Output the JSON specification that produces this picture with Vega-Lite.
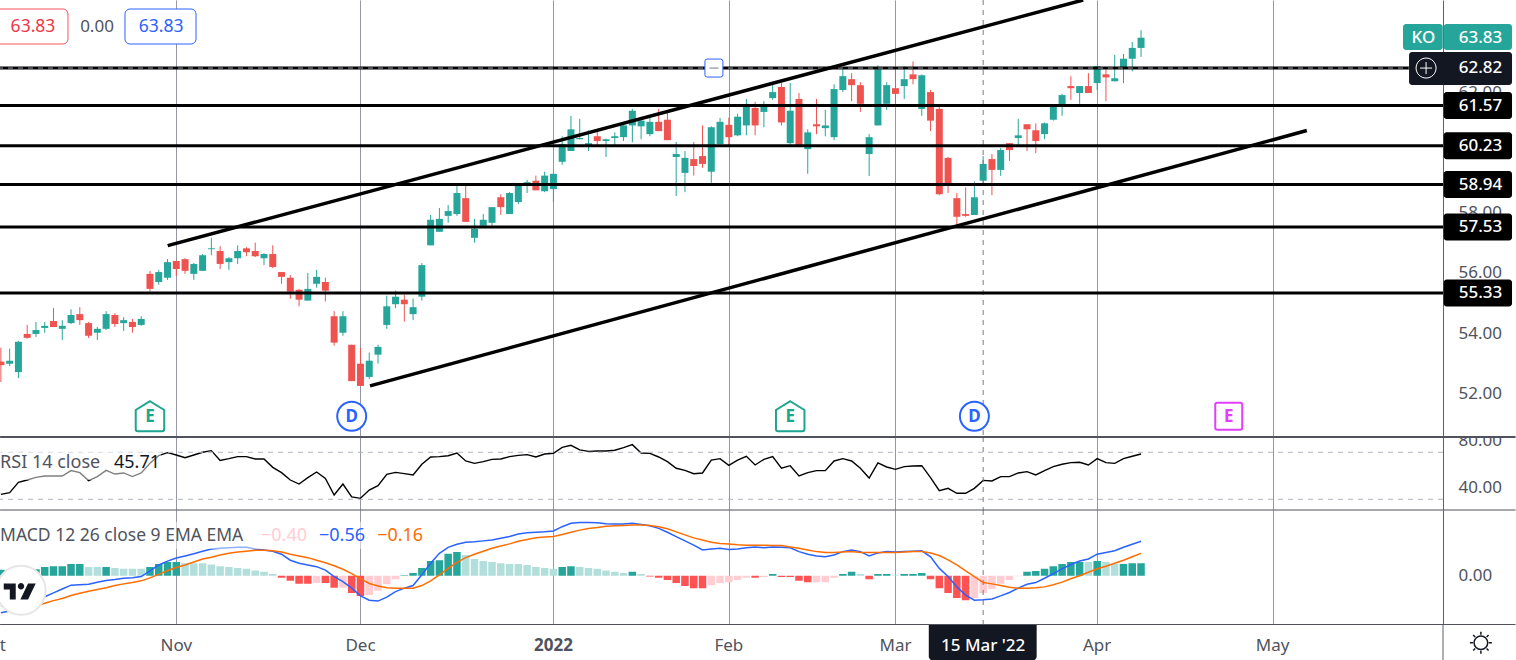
{"$schema":"https://vega.github.io/schema/vega-lite/v6.json","padding":0,"background":"#ffffff","spacing":0,"bounds":"flush","config":{"font":"Noto Sans","view":{"stroke":null},"axis":{"labelFont":"Noto Sans"}},
"datasets":{
"bars":[
{"bar":-20,"open":53.05,"high":53.51,"low":52.37,"close":52.93,"rsi":34.2,"hist":0.14,"tone":"up","macd":-0.86,"signal":-0.70},
{"bar":-19,"open":52.98,"high":53.48,"low":52.90,"close":53.08,"rsi":35.6,"hist":0.14,"tone":"up","macd":-0.82,"signal":-0.71},
{"bar":-18,"open":52.70,"high":53.74,"low":52.50,"close":53.71,"rsi":44.4,"hist":0.14,"tone":"up","macd":-0.75,"signal":-0.71},
{"bar":-17,"open":53.97,"high":54.27,"low":53.81,"close":53.84,"rsi":46.4,"hist":0.14,"tone":"up","macd":-0.68,"signal":-0.71},
{"bar":-16,"open":53.97,"high":54.37,"low":53.87,"close":54.10,"rsi":48.7,"hist":0.15,"tone":"up","macd":-0.59,"signal":-0.71},
{"bar":-15,"open":54.17,"high":54.37,"low":54.01,"close":54.24,"rsi":49.8,"hist":0.20,"tone":"up","macd":-0.49,"signal":-0.64},
{"bar":-14,"open":54.40,"high":54.83,"low":54.20,"close":54.20,"rsi":49.8,"hist":0.22,"tone":"up","macd":-0.40,"signal":-0.58},
{"bar":-13,"open":54.14,"high":54.43,"low":53.77,"close":54.24,"rsi":49.8,"hist":0.22,"tone":"up","macd":-0.31,"signal":-0.53},
{"bar":-12,"open":54.33,"high":54.79,"low":54.30,"close":54.60,"rsi":54.4,"hist":0.27,"tone":"up","macd":-0.22,"signal":-0.46},
{"bar":-11,"open":54.63,"high":54.86,"low":54.27,"close":54.43,"rsi":52.7,"hist":0.27,"tone":"up","macd":-0.21,"signal":-0.41},
{"bar":-10,"open":54.33,"high":54.37,"low":53.84,"close":53.91,"rsi":45.9,"hist":0.20,"tone":"upfade","macd":-0.20,"signal":-0.36},
{"bar":-9,"open":54.01,"high":54.20,"low":53.77,"close":54.14,"rsi":49.3,"hist":0.20,"tone":"upfade","macd":-0.15,"signal":-0.32},
{"bar":-8,"open":54.14,"high":54.73,"low":54.10,"close":54.63,"rsi":54.6,"hist":0.20,"tone":"up","macd":-0.11,"signal":-0.28},
{"bar":-7,"open":54.60,"high":54.66,"low":54.20,"close":54.30,"rsi":51.5,"hist":0.18,"tone":"upfade","macd":-0.09,"signal":-0.23},
{"bar":-6,"open":54.33,"high":54.53,"low":54.07,"close":54.43,"rsi":52.4,"hist":0.16,"tone":"upfade","macd":-0.06,"signal":-0.19},
{"bar":-5,"open":54.37,"high":54.47,"low":54.01,"close":54.20,"rsi":49.3,"hist":0.16,"tone":"upfade","macd":-0.05,"signal":-0.16},
{"bar":-4,"open":54.27,"high":54.56,"low":54.24,"close":54.47,"rsi":52.4,"hist":0.16,"tone":"upfade","macd":-0.02,"signal":-0.12},
{"bar":-3,"open":55.97,"high":56.07,"low":55.38,"close":55.47,"rsi":60.6,"hist":0.20,"tone":"up","macd":0.11,"signal":-0.05},
{"bar":-2,"open":55.70,"high":56.10,"low":55.61,"close":56.03,"rsi":67.1,"hist":0.27,"tone":"up","macd":0.25,"signal":0.03},
{"bar":-1,"open":55.84,"high":56.46,"low":55.77,"close":56.36,"rsi":69.7,"hist":0.32,"tone":"up","macd":0.34,"signal":0.12},
{"bar":0,"open":56.40,"high":56.40,"low":55.90,"close":56.13,"rsi":67.7,"hist":0.32,"tone":"up","macd":0.41,"signal":0.19},
{"bar":1,"open":56.46,"high":56.49,"low":55.97,"close":56.07,"rsi":65.4,"hist":0.29,"tone":"upfade","macd":0.46,"signal":0.25},
{"bar":2,"open":55.97,"high":56.33,"low":55.77,"close":56.30,"rsi":67.7,"hist":0.29,"tone":"upfade","macd":0.51,"signal":0.32},
{"bar":3,"open":56.07,"high":56.63,"low":56.07,"close":56.59,"rsi":70.0,"hist":0.29,"tone":"upfade","macd":0.57,"signal":0.39},
{"bar":4,"open":56.79,"high":57.17,"low":56.59,"close":56.82,"rsi":71.4,"hist":0.26,"tone":"upfade","macd":0.62,"signal":0.43},
{"bar":5,"open":56.73,"high":56.89,"low":56.13,"close":56.30,"rsi":63.1,"hist":0.22,"tone":"upfade","macd":0.64,"signal":0.48},
{"bar":6,"open":56.36,"high":56.53,"low":56.10,"close":56.49,"rsi":64.6,"hist":0.20,"tone":"upfade","macd":0.65,"signal":0.52},
{"bar":7,"open":56.49,"high":56.92,"low":56.30,"close":56.73,"rsi":66.3,"hist":0.18,"tone":"upfade","macd":0.66,"signal":0.55},
{"bar":8,"open":56.82,"high":56.86,"low":56.56,"close":56.69,"rsi":66.3,"hist":0.16,"tone":"upfade","macd":0.66,"signal":0.57},
{"bar":9,"open":56.73,"high":57.01,"low":56.53,"close":56.56,"rsi":64.3,"hist":0.12,"tone":"upfade","macd":0.62,"signal":0.59},
{"bar":10,"open":56.49,"high":56.66,"low":56.26,"close":56.63,"rsi":64.3,"hist":0.09,"tone":"upfade","macd":0.60,"signal":0.59},
{"bar":11,"open":56.63,"high":56.92,"low":56.16,"close":56.20,"rsi":57.2,"hist":0.04,"tone":"upfade","macd":0.57,"signal":0.58},
{"bar":12,"open":56.03,"high":56.03,"low":55.64,"close":55.87,"rsi":52.7,"hist":-0.05,"tone":"down","macd":0.50,"signal":0.55},
{"bar":13,"open":55.84,"high":55.93,"low":55.14,"close":55.38,"rsi":46.4,"hist":-0.12,"tone":"down","macd":0.36,"signal":0.50},
{"bar":14,"open":55.44,"high":55.47,"low":54.89,"close":55.11,"rsi":43.0,"hist":-0.19,"tone":"down","macd":0.29,"signal":0.46},
{"bar":15,"open":55.08,"high":56.00,"low":55.08,"close":55.47,"rsi":48.4,"hist":-0.19,"tone":"down","macd":0.25,"signal":0.42},
{"bar":16,"open":55.64,"high":56.10,"low":55.51,"close":55.87,"rsi":53.2,"hist":-0.17,"tone":"downfade","macd":0.21,"signal":0.36},
{"bar":17,"open":55.70,"high":55.84,"low":55.05,"close":55.41,"rsi":47.8,"hist":-0.17,"tone":"down","macd":0.13,"signal":0.30},
{"bar":18,"open":54.56,"high":54.73,"low":53.58,"close":53.68,"rsi":33.7,"hist":-0.28,"tone":"down","macd":-0.02,"signal":0.23},
{"bar":19,"open":54.01,"high":54.73,"low":53.91,"close":54.56,"rsi":43.0,"hist":-0.28,"tone":"downfade","macd":-0.14,"signal":0.15},
{"bar":20,"open":53.61,"high":53.61,"low":52.40,"close":52.40,"rsi":32.0,"hist":-0.40,"tone":"down","macd":-0.29,"signal":0.05},
{"bar":21,"open":52.98,"high":53.51,"low":52.24,"close":52.24,"rsi":30.8,"hist":-0.47,"tone":"down","macd":-0.47,"signal":-0.07},
{"bar":22,"open":52.54,"high":53.35,"low":52.47,"close":53.08,"rsi":37.9,"hist":-0.45,"tone":"downfade","macd":-0.57,"signal":-0.18},
{"bar":23,"open":53.28,"high":53.61,"low":52.98,"close":53.54,"rsi":41.6,"hist":-0.35,"tone":"downfade","macd":-0.59,"signal":-0.24},
{"bar":24,"open":54.27,"high":55.24,"low":54.14,"close":54.89,"rsi":51.2,"hist":-0.20,"tone":"downfade","macd":-0.50,"signal":-0.28},
{"bar":25,"open":54.96,"high":55.41,"low":54.83,"close":55.21,"rsi":52.9,"hist":-0.08,"tone":"downfade","macd":-0.37,"signal":-0.29},
{"bar":26,"open":55.11,"high":55.28,"low":54.38,"close":54.96,"rsi":51.8,"hist":0.01,"tone":"up","macd":-0.29,"signal":-0.29},
{"bar":27,"open":54.63,"high":55.15,"low":54.43,"close":54.86,"rsi":50.7,"hist":0.06,"tone":"up","macd":-0.23,"signal":-0.29},
{"bar":28,"open":55.21,"high":56.33,"low":55.08,"close":56.26,"rsi":59.8,"hist":0.18,"tone":"up","macd":0.02,"signal":-0.23},
{"bar":29,"open":56.92,"high":57.93,"low":56.92,"close":57.77,"rsi":66.0,"hist":0.34,"tone":"up","macd":0.29,"signal":-0.12},
{"bar":30,"open":57.37,"high":58.16,"low":57.37,"close":57.80,"rsi":66.3,"hist":0.36,"tone":"up","macd":0.52,"signal":0.02},
{"bar":31,"open":57.90,"high":58.26,"low":57.67,"close":58.06,"rsi":67.1,"hist":0.51,"tone":"up","macd":0.66,"signal":0.17},
{"bar":32,"open":57.96,"high":58.89,"low":57.90,"close":58.66,"rsi":69.4,"hist":0.55,"tone":"up","macd":0.73,"signal":0.31},
{"bar":33,"open":58.49,"high":58.89,"low":57.70,"close":57.70,"rsi":62.6,"hist":0.48,"tone":"upfade","macd":0.78,"signal":0.42},
{"bar":34,"open":57.17,"high":57.80,"low":57.01,"close":57.47,"rsi":60.6,"hist":0.39,"tone":"upfade","macd":0.79,"signal":0.50},
{"bar":35,"open":57.57,"high":57.96,"low":57.57,"close":57.77,"rsi":62.0,"hist":0.34,"tone":"upfade","macd":0.81,"signal":0.57},
{"bar":36,"open":57.67,"high":58.19,"low":57.57,"close":58.19,"rsi":64.0,"hist":0.32,"tone":"upfade","macd":0.83,"signal":0.64},
{"bar":37,"open":58.52,"high":58.62,"low":57.93,"close":58.19,"rsi":64.3,"hist":0.29,"tone":"upfade","macd":0.87,"signal":0.69},
{"bar":38,"open":57.96,"high":58.69,"low":57.96,"close":58.66,"rsi":66.3,"hist":0.27,"tone":"upfade","macd":0.91,"signal":0.74},
{"bar":39,"open":58.36,"high":58.95,"low":58.29,"close":58.92,"rsi":67.4,"hist":0.27,"tone":"upfade","macd":0.97,"signal":0.80},
{"bar":40,"open":58.91,"high":59.10,"low":58.66,"close":59.02,"rsi":68.0,"hist":0.25,"tone":"upfade","macd":1.00,"signal":0.84},
{"bar":41,"open":59.07,"high":59.24,"low":58.75,"close":58.75,"rsi":66.0,"hist":0.20,"tone":"upfade","macd":1.01,"signal":0.88},
{"bar":42,"open":58.72,"high":59.37,"low":58.69,"close":59.24,"rsi":68.5,"hist":0.18,"tone":"upfade","macd":1.02,"signal":0.90},
{"bar":43,"open":58.79,"high":59.30,"low":58.36,"close":59.30,"rsi":69.1,"hist":0.16,"tone":"upfade","macd":1.04,"signal":0.91},
{"bar":44,"open":59.70,"high":60.55,"low":59.60,"close":60.29,"rsi":74.2,"hist":0.20,"tone":"up","macd":1.14,"signal":0.96},
{"bar":45,"open":60.06,"high":61.23,"low":60.06,"close":60.78,"rsi":75.9,"hist":0.22,"tone":"up","macd":1.22,"signal":1.01},
{"bar":46,"open":60.45,"high":61.13,"low":60.45,"close":60.49,"rsi":72.0,"hist":0.20,"tone":"upfade","macd":1.24,"signal":1.06},
{"bar":47,"open":60.22,"high":60.75,"low":60.06,"close":60.32,"rsi":70.8,"hist":0.18,"tone":"upfade","macd":1.24,"signal":1.10},
{"bar":48,"open":60.55,"high":60.75,"low":60.26,"close":60.39,"rsi":71.1,"hist":0.16,"tone":"upfade","macd":1.23,"signal":1.12},
{"bar":49,"open":60.39,"high":60.47,"low":59.86,"close":60.45,"rsi":71.1,"hist":0.12,"tone":"upfade","macd":1.21,"signal":1.15},
{"bar":50,"open":60.49,"high":60.68,"low":60.26,"close":60.55,"rsi":71.7,"hist":0.09,"tone":"upfade","macd":1.20,"signal":1.16},
{"bar":51,"open":60.52,"high":60.97,"low":60.39,"close":60.91,"rsi":73.9,"hist":0.06,"tone":"upfade","macd":1.20,"signal":1.17},
{"bar":52,"open":60.91,"high":61.46,"low":60.35,"close":61.40,"rsi":76.5,"hist":0.09,"tone":"up","macd":1.22,"signal":1.18},
{"bar":53,"open":60.88,"high":61.20,"low":60.45,"close":61.07,"rsi":69.4,"hist":0.04,"tone":"upfade","macd":1.19,"signal":1.18},
{"bar":54,"open":60.62,"high":61.23,"low":60.55,"close":61.03,"rsi":69.1,"hist":-0.02,"tone":"down","macd":1.16,"signal":1.17},
{"bar":55,"open":61.03,"high":61.46,"low":60.72,"close":60.72,"rsi":66.0,"hist":-0.05,"tone":"down","macd":1.10,"signal":1.14},
{"bar":56,"open":61.10,"high":61.33,"low":60.42,"close":60.42,"rsi":62.0,"hist":-0.10,"tone":"down","macd":1.01,"signal":1.09},
{"bar":57,"open":59.86,"high":60.36,"low":58.56,"close":59.96,"rsi":56.4,"hist":-0.17,"tone":"down","macd":0.91,"signal":1.02},
{"bar":58,"open":59.33,"high":60.06,"low":58.69,"close":59.83,"rsi":54.6,"hist":-0.24,"tone":"down","macd":0.81,"signal":0.95},
{"bar":59,"open":59.79,"high":60.36,"low":59.24,"close":59.56,"rsi":51.8,"hist":-0.29,"tone":"down","macd":0.71,"signal":0.88},
{"bar":60,"open":59.89,"high":60.91,"low":59.50,"close":59.63,"rsi":52.4,"hist":-0.29,"tone":"down","macd":0.60,"signal":0.83},
{"bar":61,"open":59.37,"high":60.88,"low":59.00,"close":60.85,"rsi":63.4,"hist":-0.22,"tone":"downfade","macd":0.62,"signal":0.78},
{"bar":62,"open":60.29,"high":61.16,"low":60.26,"close":61.03,"rsi":64.6,"hist":-0.17,"tone":"downfade","macd":0.64,"signal":0.75},
{"bar":63,"open":60.93,"high":61.17,"low":60.26,"close":60.52,"rsi":58.9,"hist":-0.15,"tone":"downfade","macd":0.61,"signal":0.74},
{"bar":64,"open":60.58,"high":61.30,"low":60.55,"close":61.20,"rsi":63.4,"hist":-0.10,"tone":"downfade","macd":0.62,"signal":0.72},
{"bar":65,"open":60.91,"high":61.79,"low":60.58,"close":61.53,"rsi":66.6,"hist":-0.05,"tone":"downfade","macd":0.65,"signal":0.71},
{"bar":66,"open":61.49,"high":61.69,"low":60.58,"close":60.91,"rsi":59.2,"hist":-0.05,"tone":"down","macd":0.67,"signal":0.71},
{"bar":67,"open":61.36,"high":61.72,"low":60.85,"close":61.53,"rsi":64.0,"hist":-0.03,"tone":"downfade","macd":0.65,"signal":0.71},
{"bar":68,"open":61.82,"high":62.32,"low":61.76,"close":62.02,"rsi":66.3,"hist":0.04,"tone":"up","macd":0.67,"signal":0.70},
{"bar":69,"open":62.19,"high":62.32,"low":60.91,"close":61.01,"rsi":56.4,"hist":-0.03,"tone":"down","macd":0.66,"signal":0.70},
{"bar":70,"open":60.32,"high":62.32,"low":60.26,"close":61.40,"rsi":58.6,"hist":-0.03,"tone":"down","macd":0.65,"signal":0.67},
{"bar":71,"open":61.79,"high":61.99,"low":60.19,"close":60.26,"rsi":49.8,"hist":-0.12,"tone":"down","macd":0.56,"signal":0.64},
{"bar":72,"open":60.12,"high":60.78,"low":59.30,"close":60.68,"rsi":52.7,"hist":-0.15,"tone":"down","macd":0.50,"signal":0.60},
{"bar":73,"open":60.95,"high":61.79,"low":60.62,"close":60.88,"rsi":54.4,"hist":-0.15,"tone":"downfade","macd":0.46,"signal":0.56},
{"bar":74,"open":60.82,"high":61.43,"low":60.55,"close":60.91,"rsi":54.4,"hist":-0.15,"tone":"downfade","macd":0.44,"signal":0.54},
{"bar":75,"open":60.52,"high":62.28,"low":60.42,"close":62.12,"rsi":62.6,"hist":-0.05,"tone":"downfade","macd":0.48,"signal":0.54},
{"bar":76,"open":62.09,"high":62.78,"low":62.02,"close":62.55,"rsi":64.6,"hist":0.04,"tone":"up","macd":0.56,"signal":0.55},
{"bar":77,"open":62.45,"high":62.65,"low":61.72,"close":62.25,"rsi":62.6,"hist":0.09,"tone":"up","macd":0.60,"signal":0.56},
{"bar":78,"open":62.25,"high":62.35,"low":61.36,"close":61.63,"rsi":56.4,"hist":0.04,"tone":"upfade","macd":0.56,"signal":0.54},
{"bar":79,"open":59.96,"high":60.62,"low":59.23,"close":60.52,"rsi":48.1,"hist":-0.08,"tone":"down","macd":0.46,"signal":0.54},
{"bar":80,"open":60.91,"high":62.91,"low":60.91,"close":62.78,"rsi":60.9,"hist":0.04,"tone":"up","macd":0.53,"signal":0.54},
{"bar":81,"open":61.63,"high":62.35,"low":61.43,"close":62.25,"rsi":57.5,"hist":0.04,"tone":"up","macd":0.56,"signal":0.54},
{"bar":82,"open":62.15,"high":62.78,"low":61.63,"close":61.96,"rsi":55.5,"hist":0.01,"tone":"upfade","macd":0.55,"signal":0.54},
{"bar":83,"open":62.22,"high":62.88,"low":61.79,"close":62.45,"rsi":57.8,"hist":0.04,"tone":"up","macd":0.56,"signal":0.55},
{"bar":84,"open":62.61,"high":63.04,"low":62.28,"close":62.45,"rsi":58.3,"hist":0.04,"tone":"up","macd":0.57,"signal":0.56},
{"bar":85,"open":61.46,"high":62.61,"low":61.23,"close":62.58,"rsi":58.6,"hist":0.06,"tone":"up","macd":0.58,"signal":0.56},
{"bar":86,"open":62.02,"high":62.09,"low":60.72,"close":61.07,"rsi":48.4,"hist":-0.08,"tone":"down","macd":0.44,"signal":0.53},
{"bar":87,"open":61.46,"high":61.53,"low":58.59,"close":58.62,"rsi":37.3,"hist":-0.29,"tone":"down","macd":0.17,"signal":0.47},
{"bar":88,"open":59.83,"high":59.86,"low":58.66,"close":58.98,"rsi":39.3,"hist":-0.40,"tone":"down","macd":-0.02,"signal":0.37},
{"bar":89,"open":58.49,"high":58.66,"low":57.60,"close":57.87,"rsi":35.1,"hist":-0.52,"tone":"down","macd":-0.26,"signal":0.25},
{"bar":90,"open":57.96,"high":58.85,"low":57.87,"close":57.90,"rsi":35.1,"hist":-0.57,"tone":"down","macd":-0.45,"signal":0.11},
{"bar":91,"open":57.93,"high":59.04,"low":57.93,"close":58.52,"rsi":39.3,"hist":-0.52,"tone":"downfade","macd":-0.57,"signal":-0.02},
{"bar":92,"open":59.07,"high":59.89,"low":58.97,"close":59.63,"rsi":46.1,"hist":-0.40,"tone":"downfade","macd":-0.56,"signal":-0.16},
{"bar":93,"open":59.79,"high":59.96,"low":58.59,"close":59.43,"rsi":45.6,"hist":-0.31,"tone":"downfade","macd":-0.54,"signal":-0.19},
{"bar":94,"open":59.43,"high":60.16,"low":59.23,"close":60.09,"rsi":49.3,"hist":-0.19,"tone":"downfade","macd":-0.47,"signal":-0.23},
{"bar":95,"open":60.32,"high":60.32,"low":59.73,"close":60.09,"rsi":49.3,"hist":-0.10,"tone":"downfade","macd":-0.39,"signal":-0.27},
{"bar":96,"open":60.49,"high":61.13,"low":60.26,"close":60.58,"rsi":52.4,"hist":-0.01,"tone":"downfade","macd":-0.29,"signal":-0.29},
{"bar":97,"open":60.95,"high":60.95,"low":60.06,"close":60.78,"rsi":53.5,"hist":0.09,"tone":"up","macd":-0.20,"signal":-0.29},
{"bar":98,"open":60.75,"high":60.98,"low":59.99,"close":60.39,"rsi":50.7,"hist":0.11,"tone":"up","macd":-0.16,"signal":-0.28},
{"bar":99,"open":60.62,"high":61.01,"low":60.45,"close":60.98,"rsi":54.4,"hist":0.16,"tone":"up","macd":-0.06,"signal":-0.26},
{"bar":100,"open":61.10,"high":61.53,"low":61.07,"close":61.53,"rsi":57.8,"hist":0.22,"tone":"up","macd":0.05,"signal":-0.21},
{"bar":101,"open":61.53,"high":61.96,"low":61.23,"close":61.92,"rsi":59.8,"hist":0.27,"tone":"up","macd":0.16,"signal":-0.15},
{"bar":102,"open":62.22,"high":62.55,"low":61.76,"close":62.15,"rsi":61.2,"hist":0.32,"tone":"up","macd":0.26,"signal":-0.07},
{"bar":103,"open":61.99,"high":62.22,"low":61.63,"close":62.22,"rsi":61.5,"hist":0.32,"tone":"up","macd":0.34,"signal":0.00},
{"bar":104,"open":62.22,"high":62.65,"low":61.99,"close":61.99,"rsi":59.2,"hist":0.32,"tone":"upfade","macd":0.39,"signal":0.08},
{"bar":105,"open":62.32,"high":62.88,"low":62.09,"close":62.88,"rsi":64.6,"hist":0.34,"tone":"up","macd":0.50,"signal":0.16},
{"bar":106,"open":62.61,"high":62.78,"low":61.72,"close":62.51,"rsi":61.2,"hist":0.32,"tone":"upfade","macd":0.54,"signal":0.22},
{"bar":107,"open":62.38,"high":63.26,"low":62.38,"close":62.48,"rsi":60.6,"hist":0.27,"tone":"upfade","macd":0.58,"signal":0.29},
{"bar":108,"open":62.84,"high":63.29,"low":62.32,"close":63.13,"rsi":64.6,"hist":0.27,"tone":"up","macd":0.66,"signal":0.36},
{"bar":109,"open":63.13,"high":63.69,"low":62.71,"close":63.49,"rsi":66.6,"hist":0.29,"tone":"up","macd":0.73,"signal":0.44},
{"bar":110,"open":63.49,"high":64.08,"low":63.19,"close":63.83,"rsi":68.5,"hist":0.29,"tone":"up","macd":0.80,"signal":0.52}
],
"levels":[{"level":61.57},{"level":60.23},{"level":58.94},{"level":57.53},{"level":55.33}],
"trend":[{"line":"upper","bar":-0.98,"price":56.91},{"line":"upper","bar":103.4,"price":65.085},{"line":"lower","bar":22.09,"price":52.24},{"line":"lower","bar":128.9,"price":60.74}],
"months":[{"bar":-21,"label":"Oct"},{"bar":0,"label":"Nov"},{"bar":21,"label":"Dec"},{"bar":63,"label":"Feb"},{"bar":82,"label":"Mar"},{"bar":105,"label":"Apr"},{"bar":125,"label":"May"}],
"events":[{"bar":-3,"kind":"E","due":"past"},{"bar":20,"kind":"D","due":"past"},{"bar":70,"kind":"E","due":"past"},{"bar":91,"kind":"D","due":"past"},{"bar":120,"kind":"E","due":"next"}]
},
"vconcat":[
{"width":1443,"height":437,"layer":[
{"data":{"name":"bars"},"mark":{"type":"rule","strokeWidth":1,"clip":true},"encoding":{"x":{"field":"bar","type":"quantitative","scale":{"domain":[-20.1,144.43],"nice":false,"zero":false,"padding":0},"axis":{"values":[0,21,43,63,82,105,125],"grid":true,"gridColor":"#9598a1","gridWidth":1,"labels":false,"ticks":false,"domain":false,"title":null}},"y":{"field":"low","type":"quantitative","scale":{"domain":[50.54,65.085],"nice":false,"zero":false,"padding":0},"axis":{"orient":"right","values":[52,54,56,58,60,62],"format":".2f","grid":false,"ticks":false,"labelFontSize":17,"labelColor":"#50535e","labelPadding":15,"labelOverlap":false,"labelFlush":false,"domainColor":"#5d606b","domainWidth":1,"title":null}},"y2":{"field":"high"},"color":{"condition":{"test":"datum.close>=datum.open","value":"#26a69a"},"value":"#ef5350"}}},
{"data":{"name":"bars"},"mark":{"type":"bar","size":7,"clip":true},"encoding":{"x":{"field":"bar","type":"quantitative","scale":{"domain":[-20.1,144.43],"nice":false,"zero":false,"padding":0}},"y":{"field":"open","type":"quantitative","scale":{"domain":[50.54,65.085],"nice":false,"zero":false,"padding":0}},"y2":{"field":"close"},"color":{"condition":{"test":"datum.close>=datum.open","value":"#26a69a"},"value":"#ef5350"}}},
{"data":{"values":[{"bar":92}]},"mark":{"type":"rule","stroke":"#787b86","strokeWidth":1,"strokeDash":[5,5],"clip":true},"encoding":{"x":{"field":"bar","type":"quantitative","scale":{"domain":[-20.1,144.43],"nice":false,"zero":false,"padding":0}}}},
{"data":{"name":"levels"},"mark":{"type":"rule","stroke":"#000000","strokeWidth":3,"clip":true},"encoding":{"y":{"field":"level","type":"quantitative","scale":{"domain":[50.54,65.085],"nice":false,"zero":false,"padding":0}}}},
{"data":{"values":[{"level":62.82}]},"mark":{"type":"rule","stroke":"#000000","strokeWidth":3,"clip":true},"encoding":{"y":{"field":"level","type":"quantitative","scale":{"domain":[50.54,65.085],"nice":false,"zero":false,"padding":0}}}},
{"data":{"values":[{"level":62.82}]},"mark":{"type":"rule","stroke":"#9598a1","strokeWidth":1,"strokeDash":[5,5],"clip":true},"encoding":{"y":{"field":"level","type":"quantitative","scale":{"domain":[50.54,65.085],"nice":false,"zero":false,"padding":0}}}},
{"data":{"name":"trend"},"mark":{"type":"line","stroke":"#000000","strokeWidth":3.5,"clip":true},"encoding":{"x":{"field":"bar","type":"quantitative","scale":{"domain":[-20.1,144.43],"nice":false,"zero":false,"padding":0}},"y":{"field":"price","type":"quantitative","scale":{"domain":[50.54,65.085],"nice":false,"zero":false,"padding":0}},"detail":{"field":"line"}}},
{"data":{"name":"events"},"transform":[{"filter":"datum.kind=='E'&&datum.due=='past'"}],"mark":{"type":"point","shape":"M0,-1L.95,-.42V.85Q.95,1 .8,1H-.8Q-.95,1 -.95,.85V-.42Z","size":900,"fill":"#ffffff","filled":true,"stroke":"#1ca58f","strokeWidth":2,"opacity":1},"encoding":{"x":{"field":"bar","type":"quantitative","scale":{"domain":[-20.1,144.43],"nice":false,"zero":false,"padding":0}},"y":{"datum":51.23,"type":"quantitative","scale":{"domain":[50.54,65.085],"nice":false,"zero":false,"padding":0}}}},
{"data":{"name":"events"},"transform":[{"filter":"datum.kind=='D'"}],"mark":{"type":"point","shape":"circle","size":840,"fill":"#ffffff","filled":true,"stroke":"#2962ff","strokeWidth":2,"opacity":1},"encoding":{"x":{"field":"bar","type":"quantitative","scale":{"domain":[-20.1,144.43],"nice":false,"zero":false,"padding":0}},"y":{"datum":51.23,"type":"quantitative","scale":{"domain":[50.54,65.085],"nice":false,"zero":false,"padding":0}}}},
{"data":{"name":"events"},"transform":[{"filter":"datum.due=='next'"}],"mark":{"type":"point","shape":"M-.85,-1H.85Q1,-1 1,-.85V.85Q1,1 .85,1H-.85Q-1,1 -1,.85V-.85Q-1,-1 -.85,-1Z","size":729,"fill":"#ffffff","filled":true,"stroke":"#e040fb","strokeWidth":2,"opacity":1},"encoding":{"x":{"field":"bar","type":"quantitative","scale":{"domain":[-20.1,144.43],"nice":false,"zero":false,"padding":0}},"y":{"datum":51.23,"type":"quantitative","scale":{"domain":[50.54,65.085],"nice":false,"zero":false,"padding":0}}}},
{"data":{"name":"events"},"transform":[{"filter":"datum.kind=='E'&&datum.due=='past'"}],"mark":{"type":"text","fontSize":17,"fontWeight":"bold","dy":1,"color":"#1ca58f"},"encoding":{"x":{"field":"bar","type":"quantitative","scale":{"domain":[-20.1,144.43],"nice":false,"zero":false,"padding":0}},"y":{"datum":51.23,"type":"quantitative","scale":{"domain":[50.54,65.085],"nice":false,"zero":false,"padding":0}},"text":{"field":"kind"}}},
{"data":{"name":"events"},"transform":[{"filter":"datum.kind=='D'"}],"mark":{"type":"text","fontSize":17,"fontWeight":"bold","dy":1,"color":"#2962ff"},"encoding":{"x":{"field":"bar","type":"quantitative","scale":{"domain":[-20.1,144.43],"nice":false,"zero":false,"padding":0}},"y":{"datum":51.23,"type":"quantitative","scale":{"domain":[50.54,65.085],"nice":false,"zero":false,"padding":0}},"text":{"field":"kind"}}},
{"data":{"name":"events"},"transform":[{"filter":"datum.due=='next'"}],"mark":{"type":"text","fontSize":17,"fontWeight":"bold","dy":1,"color":"#e040fb"},"encoding":{"x":{"field":"bar","type":"quantitative","scale":{"domain":[-20.1,144.43],"nice":false,"zero":false,"padding":0}},"y":{"datum":51.23,"type":"quantitative","scale":{"domain":[50.54,65.085],"nice":false,"zero":false,"padding":0}},"text":{"field":"kind"}}},
{"data":{"values":[{"note":"open"}]},"mark":{"type":"rect","fill":"#ffffff","stroke":"#f7525f","strokeWidth":1,"cornerRadius":5,"clip":true},"encoding":{"x":{"datum":-21,"type":"quantitative","scale":{"domain":[-20.1,144.43],"nice":false,"zero":false,"padding":0}},"x2":{"datum":-12.35},"y":{"datum":64.785,"type":"quantitative","scale":{"domain":[50.54,65.085],"nice":false,"zero":false,"padding":0}},"y2":{"datum":63.62}}},
{"data":{"values":[{"note":"close"}]},"mark":{"type":"rect","fill":"#ffffff","stroke":"#2962ff","strokeWidth":1,"cornerRadius":5},"encoding":{"x":{"datum":-5.85,"type":"quantitative","scale":{"domain":[-20.1,144.43],"nice":false,"zero":false,"padding":0}},"x2":{"datum":2.25},"y":{"datum":64.785,"type":"quantitative","scale":{"domain":[50.54,65.085],"nice":false,"zero":false,"padding":0}},"y2":{"datum":63.62}}},
{"data":{"values":[{"bar":-16.34,"text":"63.83"}]},"mark":{"type":"text","fontSize":17.5,"color":"#f23645"},"encoding":{"x":{"field":"bar","type":"quantitative","scale":{"domain":[-20.1,144.43],"nice":false,"zero":false,"padding":0}},"y":{"datum":64.19,"type":"quantitative","scale":{"domain":[50.54,65.085],"nice":false,"zero":false,"padding":0}},"text":{"field":"text"}}},
{"data":{"values":[{"bar":-9.04,"text":"0.00"}]},"mark":{"type":"text","fontSize":17,"color":"#50535e"},"encoding":{"x":{"field":"bar","type":"quantitative","scale":{"domain":[-20.1,144.43],"nice":false,"zero":false,"padding":0}},"y":{"datum":64.19,"type":"quantitative","scale":{"domain":[50.54,65.085],"nice":false,"zero":false,"padding":0}},"text":{"field":"text"}}},
{"data":{"values":[{"bar":-1.74,"text":"63.83"}]},"mark":{"type":"text","fontSize":17.5,"color":"#2962ff"},"encoding":{"x":{"field":"bar","type":"quantitative","scale":{"domain":[-20.1,144.43],"nice":false,"zero":false,"padding":0}},"y":{"datum":64.19,"type":"quantitative","scale":{"domain":[50.54,65.085],"nice":false,"zero":false,"padding":0}},"text":{"field":"text"}}},
{"data":{"values":[{"note":"collapse"}]},"mark":{"type":"point","shape":"M-.75,-1H.75Q1,-1 1,-.75V.75Q1,1 .75,1H-.75Q-1,1 -1,.75V-.75Q-1,-1 -.75,-1Z","size":324,"fill":"#ffffff","filled":true,"stroke":"#2962ff","strokeWidth":1,"opacity":1},"encoding":{"x":{"datum":61.3,"type":"quantitative","scale":{"domain":[-20.1,144.43],"nice":false,"zero":false,"padding":0}},"y":{"datum":62.82,"type":"quantitative","scale":{"domain":[50.54,65.085],"nice":false,"zero":false,"padding":0}}}},
{"data":{"values":[{"note":"collapse"}]},"mark":{"type":"point","shape":"M-.5,0H.5","size":324,"filled":false,"stroke":"#787b86","strokeWidth":1,"opacity":1},"encoding":{"x":{"datum":61.3,"type":"quantitative","scale":{"domain":[-20.1,144.43],"nice":false,"zero":false,"padding":0}},"y":{"datum":62.82,"type":"quantitative","scale":{"domain":[50.54,65.085],"nice":false,"zero":false,"padding":0}}}},
{"data":{"name":"levels"},"mark":{"type":"bar","orient":"horizontal","size":27,"color":"#000000","cornerRadius":3},"encoding":{"x":{"datum":144.5,"type":"quantitative","scale":{"domain":[-20.1,144.43],"nice":false,"zero":false,"padding":0}},"x2":{"datum":152.3},"y":{"field":"level","type":"quantitative","scale":{"domain":[50.54,65.085],"nice":false,"zero":false,"padding":0}}}},
{"data":{"values":[{"level":62.82}]},"mark":{"type":"rect","color":"#131722","cornerRadius":3},"encoding":{"x":{"datum":140.56,"type":"quantitative","scale":{"domain":[-20.1,144.43],"nice":false,"zero":false,"padding":0}},"x2":{"datum":152.3},"y":{"datum":63.355,"type":"quantitative","scale":{"domain":[50.54,65.085],"nice":false,"zero":false,"padding":0}},"y2":{"datum":62.256}}},
{"data":{"values":[{"note":"symbol"}]},"mark":{"type":"rect","color":"#26a69a","cornerRadius":3},"encoding":{"x":{"datum":139.87,"type":"quantitative","scale":{"domain":[-20.1,144.43],"nice":false,"zero":false,"padding":0}},"x2":{"datum":144.4},"y":{"datum":64.286,"type":"quantitative","scale":{"domain":[50.54,65.085],"nice":false,"zero":false,"padding":0}},"y2":{"datum":63.42}}},
{"data":{"values":[{"note":"last"}]},"mark":{"type":"rect","color":"#26a69a","cornerRadius":3},"encoding":{"x":{"datum":144.5,"type":"quantitative","scale":{"domain":[-20.1,144.43],"nice":false,"zero":false,"padding":0}},"x2":{"datum":152.3},"y":{"datum":64.286,"type":"quantitative","scale":{"domain":[50.54,65.085],"nice":false,"zero":false,"padding":0}},"y2":{"datum":63.42}}},
{"data":{"values":[{"note":"plus"}]},"mark":{"type":"point","shape":"M-1,0a1,1 0 1,0 2,0a1,1 0 1,0 -2,0M-.6,0H.6M0,-.6V.6","size":400,"filled":false,"stroke":"#ffffff","strokeWidth":1,"opacity":1},"encoding":{"x":{"datum":142.5,"type":"quantitative","scale":{"domain":[-20.1,144.43],"nice":false,"zero":false,"padding":0}},"y":{"datum":62.82,"type":"quantitative","scale":{"domain":[50.54,65.085],"nice":false,"zero":false,"padding":0}}}},
{"data":{"values":[{"level":61.57},{"level":60.23},{"level":58.94},{"level":57.53},{"level":55.33},{"level":62.82},{"level":63.83}]},"mark":{"type":"text","fontSize":17,"fontWeight":500,"color":"#ffffff"},"encoding":{"x":{"datum":148.7,"type":"quantitative","scale":{"domain":[-20.1,144.43],"nice":false,"zero":false,"padding":0}},"y":{"field":"level","type":"quantitative","scale":{"domain":[50.54,65.085],"nice":false,"zero":false,"padding":0}},"text":{"field":"level","type":"quantitative","format":".2f"}}},
{"data":{"values":[{"text":"KO"}]},"mark":{"type":"text","fontSize":17,"fontWeight":500,"color":"#ffffff"},"encoding":{"x":{"datum":142.2,"type":"quantitative","scale":{"domain":[-20.1,144.43],"nice":false,"zero":false,"padding":0}},"y":{"datum":63.83,"type":"quantitative","scale":{"domain":[50.54,65.085],"nice":false,"zero":false,"padding":0}},"text":{"field":"text"}}}
]},
{"width":1443,"height":73,"layer":[
{"data":{"name":"bars"},"mark":{"type":"line","stroke":"#000000","strokeWidth":1.4,"clip":true},"encoding":{"x":{"field":"bar","type":"quantitative","scale":{"domain":[-20.1,144.43],"nice":false,"zero":false,"padding":0},"axis":{"values":[0,21,43,63,82,105,125],"grid":true,"gridColor":"#9598a1","gridWidth":1,"labels":false,"ticks":false,"domain":false,"title":null}},"y":{"field":"rsi","type":"quantitative","scale":{"domain":[20.9,83],"nice":false,"zero":false,"padding":0},"axis":{"orient":"right","values":[40,80],"format":".2f","grid":false,"ticks":false,"labelFontSize":17,"labelColor":"#50535e","labelPadding":15,"labelOverlap":false,"labelFlush":false,"domainColor":"#5d606b","domainWidth":1,"title":null}}}},
{"data":{"values":[{"band":70},{"band":30}]},"mark":{"type":"rule","stroke":"#b2b5be","strokeWidth":1,"strokeDash":[5,5],"clip":true},"encoding":{"y":{"field":"band","type":"quantitative","scale":{"domain":[20.9,83],"nice":false,"zero":false,"padding":0}}}},
{"data":{"values":[{"bar":92}]},"mark":{"type":"rule","stroke":"#787b86","strokeWidth":1,"strokeDash":[5,5],"clip":true},"encoding":{"x":{"field":"bar","type":"quantitative","scale":{"domain":[-20.1,144.43],"nice":false,"zero":false,"padding":0}}}},
{"data":{"values":[{"note":"legend"}]},"mark":{"type":"rect","fill":"#ffffff","opacity":0.5},"encoding":{"x":{"datum":-20.09,"type":"quantitative","scale":{"domain":[-20.1,144.43],"nice":false,"zero":false,"padding":0}},"x2":{"datum":-1.74},"y":{"datum":73.7,"type":"quantitative","scale":{"domain":[20.9,83],"nice":false,"zero":false,"padding":0}},"y2":{"datum":46.5}}},
{"data":{"values":[{"text":"RSI 14 close"}]},"mark":{"type":"text","align":"left","fontSize":18,"color":"#50535e"},"encoding":{"x":{"datum":-20.09,"type":"quantitative","scale":{"domain":[-20.1,144.43],"nice":false,"zero":false,"padding":0}},"y":{"datum":61,"type":"quantitative","scale":{"domain":[20.9,83],"nice":false,"zero":false,"padding":0}},"text":{"field":"text"}}},
{"data":{"values":[{"text":"45.71"}]},"mark":{"type":"text","align":"left","fontSize":18,"color":"#131722"},"encoding":{"x":{"datum":-7.1,"type":"quantitative","scale":{"domain":[-20.1,144.43],"nice":false,"zero":false,"padding":0}},"y":{"datum":61,"type":"quantitative","scale":{"domain":[20.9,83],"nice":false,"zero":false,"padding":0}},"text":{"field":"text"}}},
{"data":{"values":[{"note":"top edge"}]},"mark":{"type":"rect","fill":"#ffffff"},"encoding":{"x":{"datum":144.6,"type":"quantitative","scale":{"domain":[-20.1,144.43],"nice":false,"zero":false,"padding":0}},"x2":{"datum":152.7},"y":{"datum":83,"type":"quantitative","scale":{"domain":[20.9,83],"nice":false,"zero":false,"padding":0}},"y2":{"datum":88}}},
{"data":{"values":[{"edge":83}]},"mark":{"type":"bar","orient":"horizontal","size":2,"color":"#50535e"},"encoding":{"x":{"datum":-20.09,"type":"quantitative","scale":{"domain":[-20.1,144.43],"nice":false,"zero":false,"padding":0}},"x2":{"datum":152.7},"y":{"field":"edge","type":"quantitative","scale":{"domain":[20.9,83],"nice":false,"zero":false,"padding":0}}}}
]},
{"width":1443,"height":114.5,"layer":[
{"data":{"name":"bars"},"mark":{"type":"bar","size":7.5,"clip":true},"encoding":{"x":{"field":"bar","type":"quantitative","scale":{"domain":[-20.1,144.43],"nice":false,"zero":false,"padding":0},"axis":{"values":[0,21,43,63,82,105,125],"grid":true,"gridColor":"#9598a1","gridWidth":1,"labels":false,"ticks":false,"domain":false,"title":null}},"y":{"field":"hist","type":"quantitative","stack":null,"scale":{"domain":[-1.135,1.528],"nice":false,"zero":false,"padding":0},"axis":{"orient":"right","values":[0],"format":".2f","grid":false,"ticks":false,"labelFontSize":17,"labelColor":"#50535e","labelPadding":15,"labelOverlap":false,"labelFlush":false,"domainColor":"#5d606b","domainWidth":1,"title":null}},"y2":{"datum":0},"color":{"field":"tone","type":"nominal","legend":null,"scale":{"domain":["up","upfade","down","downfade"],"range":["#26a69a","#b2dfdb","#ff5252","#ffcdd2"]}}}},
{"data":{"values":[{"bar":92}]},"mark":{"type":"rule","stroke":"#787b86","strokeWidth":1,"strokeDash":[5,5],"clip":true},"encoding":{"x":{"field":"bar","type":"quantitative","scale":{"domain":[-20.1,144.43],"nice":false,"zero":false,"padding":0}}}},
{"data":{"name":"bars"},"mark":{"type":"line","stroke":"#2962ff","strokeWidth":1.5,"clip":true},"encoding":{"x":{"field":"bar","type":"quantitative","scale":{"domain":[-20.1,144.43],"nice":false,"zero":false,"padding":0}},"y":{"field":"macd","type":"quantitative","scale":{"domain":[-1.135,1.528],"nice":false,"zero":false,"padding":0}}}},
{"data":{"name":"bars"},"mark":{"type":"line","stroke":"#ff6d00","strokeWidth":1.5,"clip":true},"encoding":{"x":{"field":"bar","type":"quantitative","scale":{"domain":[-20.1,144.43],"nice":false,"zero":false,"padding":0}},"y":{"field":"signal","type":"quantitative","scale":{"domain":[-1.135,1.528],"nice":false,"zero":false,"padding":0}}}},
{"data":{"values":[{"note":"legend"}]},"mark":{"type":"rect","fill":"#ffffff","opacity":0.5},"encoding":{"x":{"datum":-20.09,"type":"quantitative","scale":{"domain":[-20.1,144.43],"nice":false,"zero":false,"padding":0}},"x2":{"datum":28.36},"y":{"datum":1.249,"type":"quantitative","scale":{"domain":[-1.135,1.528],"nice":false,"zero":false,"padding":0}},"y2":{"datum":0.62}}},
{"data":{"values":[{"text":"MACD 12 26 close 9 EMA EMA"}]},"mark":{"type":"text","align":"left","fontSize":17.5,"color":"#50535e"},"encoding":{"x":{"datum":-20.09,"type":"quantitative","scale":{"domain":[-20.1,144.43],"nice":false,"zero":false,"padding":0}},"y":{"datum":0.93,"type":"quantitative","scale":{"domain":[-1.135,1.528],"nice":false,"zero":false,"padding":0}},"text":{"field":"text"}}},
{"data":{"values":[{"bar":9.66,"text":"−0.40"}]},"mark":{"type":"text","align":"left","fontSize":18,"color":"#ffcdd2"},"encoding":{"x":{"field":"bar","type":"quantitative","scale":{"domain":[-20.1,144.43],"nice":false,"zero":false,"padding":0}},"y":{"datum":0.93,"type":"quantitative","scale":{"domain":[-1.135,1.528],"nice":false,"zero":false,"padding":0}},"text":{"field":"text"}}},
{"data":{"values":[{"bar":16.27,"text":"−0.56"}]},"mark":{"type":"text","align":"left","fontSize":18,"color":"#2962ff"},"encoding":{"x":{"field":"bar","type":"quantitative","scale":{"domain":[-20.1,144.43],"nice":false,"zero":false,"padding":0}},"y":{"datum":0.93,"type":"quantitative","scale":{"domain":[-1.135,1.528],"nice":false,"zero":false,"padding":0}},"text":{"field":"text"}}},
{"data":{"values":[{"bar":22.9,"text":"−0.16"}]},"mark":{"type":"text","align":"left","fontSize":18,"color":"#ff6d00"},"encoding":{"x":{"field":"bar","type":"quantitative","scale":{"domain":[-20.1,144.43],"nice":false,"zero":false,"padding":0}},"y":{"datum":0.93,"type":"quantitative","scale":{"domain":[-1.135,1.528],"nice":false,"zero":false,"padding":0}},"text":{"field":"text"}}},
{"data":{"values":[{"note":"logo"}]},"mark":{"type":"point","shape":"circle","size":2400,"fill":"#ffffff","filled":true,"stroke":"#e6e6e6","strokeWidth":2,"opacity":1,"clip":true},"encoding":{"x":{"datum":-17.7,"type":"quantitative","scale":{"domain":[-20.1,144.43],"nice":false,"zero":false,"padding":0}},"y":{"datum":-0.34,"type":"quantitative","scale":{"domain":[-1.135,1.528],"nice":false,"zero":false,"padding":0}}}},
{"data":{"values":[{"note":"logo"}]},"mark":{"type":"point","shape":"M-1,-.48H-.25V.52H-.62V-.1H-1ZM-.12,-.31a.2,.2 0 1,0 .4,0a.2,.2 0 1,0 -.4,0ZM.52,-.48H1L.52,.52H.04Z","size":1024,"fill":"#131722","filled":true,"opacity":1,"clip":true},"encoding":{"x":{"datum":-17.85,"type":"quantitative","scale":{"domain":[-20.1,144.43],"nice":false,"zero":false,"padding":0}},"y":{"datum":-0.36,"type":"quantitative","scale":{"domain":[-1.135,1.528],"nice":false,"zero":false,"padding":0}}}},
{"data":{"values":[{"edge":1.528}]},"mark":{"type":"bar","orient":"horizontal","size":1,"color":"#50535e"},"encoding":{"x":{"datum":-20.09,"type":"quantitative","scale":{"domain":[-20.1,144.43],"nice":false,"zero":false,"padding":0}},"x2":{"datum":152.7},"y":{"field":"edge","type":"quantitative","scale":{"domain":[-1.135,1.528],"nice":false,"zero":false,"padding":0}}}},
{"data":{"values":[{"edge":-1.135}]},"mark":{"type":"bar","orient":"horizontal","size":1,"color":"#50535e"},"encoding":{"x":{"datum":-20.09,"type":"quantitative","scale":{"domain":[-20.1,144.43],"nice":false,"zero":false,"padding":0}},"x2":{"datum":152.7},"y":{"field":"edge","type":"quantitative","scale":{"domain":[-1.135,1.528],"nice":false,"zero":false,"padding":0}}}}
]},
{"width":1443,"height":35.5,"layer":[
{"data":{"values":[{"bar":144.43}]},"mark":{"type":"rule","stroke":"#5d606b","strokeWidth":1},"encoding":{"x":{"field":"bar","type":"quantitative","scale":{"domain":[-20.1,144.43],"nice":false,"zero":false,"padding":0},"axis":null}}},
{"data":{"name":"months"},"mark":{"type":"text","fontSize":17,"color":"#50535e","clip":true,"dy":3},"encoding":{"x":{"field":"bar","type":"quantitative","scale":{"domain":[-20.1,144.43],"nice":false,"zero":false,"padding":0},"axis":null},"text":{"field":"label"}}},
{"data":{"values":[{"bar":43,"label":"2022"}]},"mark":{"type":"text","fontSize":17,"fontWeight":"bold","color":"#50535e","dy":3},"encoding":{"x":{"field":"bar","type":"quantitative","scale":{"domain":[-20.1,144.43],"nice":false,"zero":false,"padding":0},"axis":null},"text":{"field":"label"}}},
{"data":{"values":[{"note":"crosshair"}]},"mark":{"type":"rect","color":"#131722","cornerRadiusBottomLeft":4,"cornerRadiusBottomRight":4,"clip":true},"encoding":{"x":{"datum":85.8,"type":"quantitative","scale":{"domain":[-20.1,144.43],"nice":false,"zero":false,"padding":0},"axis":null},"x2":{"datum":98.1}}},
{"data":{"values":[{"bar":92,"label":"15 Mar '22"}]},"mark":{"type":"text","fontSize":17,"fontWeight":500,"color":"#ffffff","dy":3},"encoding":{"x":{"field":"bar","type":"quantitative","scale":{"domain":[-20.1,144.43],"nice":false,"zero":false,"padding":0},"axis":null},"text":{"field":"label"}}},
{"data":{"values":[{"note":"settings"}]},"mark":{"type":"point","shape":"M-.62,0a.62,.62 0 1,0 1.24,0a.62,.62 0 1,0 -1.24,0M0,-1V-.72M0,.72V1M-1,0H-.72M.72,0H1M-.7,-.7L-.52,-.52M.52,.52L.7,.7M.7,-.7L.52,-.52M-.52,.52L-.7,.7","size":484,"filled":false,"stroke":"#131722","strokeWidth":1.5,"opacity":1},"encoding":{"x":{"datum":148.75,"type":"quantitative","scale":{"domain":[-20.1,144.43],"nice":false,"zero":false,"padding":0},"axis":null}}}
]}
]}
